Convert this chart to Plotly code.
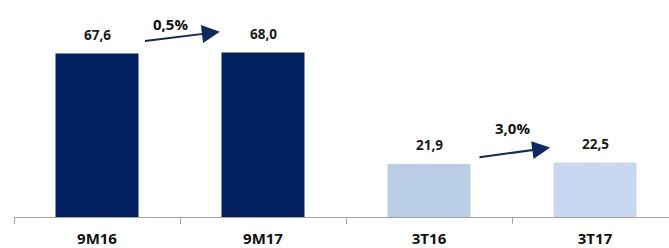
import plotly.graph_objects as go

categories = ["9M16", "9M17", "3T16", "3T17"]
values = [67.6, 68.0, 21.9, 22.5]
value_labels = ["67,6", "68,0", "21,9", "22,5"]
bar_colors = ["#002060", "#002060", "#B9CDE5", "#C6D9F1"]
growth_labels = ["0,5%", "3,0%"]
growth_pairs = [(0, 1), (2, 3)]

# arrow layout offsets (x relative to first category index, y relative to the higher bar)
arrow_layout = [
    dict(x0=0.28, x1=0.74, y0=4.7, y1=8.6, tx=0.44, ty=11.9),
    dict(x0=0.295, x1=0.73, y0=2.1, y1=6.2, tx=0.50, ty=14.4),
]

fig = go.Figure()
fig.add_trace(go.Bar(
    x=categories, y=values, marker=dict(color=bar_colors, line=dict(width=0)),
    width=0.5, hoverinfo="skip",
))

for c, v, t in zip(categories, values, value_labels):
    fig.add_annotation(x=c, y=v, text=f"<b>{t}</b>", showarrow=False,
                       yanchor="bottom", yshift=8,
                       font=dict(family="Open Sans", size=13.5, color="#1a1a1a"))

for (i, j), lab, a in zip(growth_pairs, growth_labels, arrow_layout):
    base = max(values[i], values[j])
    fig.add_annotation(x=i + a["x1"], y=base + a["y1"], ax=i + a["x0"], ay=base + a["y0"],
                       xref="x", yref="y", axref="x", ayref="y", text="",
                       showarrow=True, arrowhead=2, arrowsize=1.8, arrowwidth=2,
                       arrowcolor="#0F2A5F")
    fig.add_annotation(x=i + a["tx"], y=base + a["ty"], text=f"<b>{lab}</b>",
                       showarrow=False, yanchor="middle",
                       font=dict(family="Open Sans", size=15, color="#111111"))

fig.update_layout(
    width=669, height=248,
    margin=dict(l=14, r=0, t=0, b=29),
    paper_bgcolor="white", plot_bgcolor="white",
    showlegend=False,
    xaxis=dict(type="category", range=[-0.5, -0.5 + 655 / 166],
               showline=True, linecolor="#A6A6A6", linewidth=1,
               ticks="outside", tickson="boundaries", ticklen=6,
               tickcolor="#A6A6A6", showgrid=False,
               tickfont=dict(family="Open Sans", size=15, color="#111111"),
               ticklabelstandoff=8, fixedrange=True),
    yaxis=dict(range=[0, 219 / 2.44], visible=False, showgrid=False,
               fixedrange=True),
)
fig.update_xaxes(ticktext=[f"<b>{c}</b>" for c in categories], tickvals=categories)

fig.write_html("out.html", config={"displayModeBar": False},
               post_script="document.body.style.margin='0';document.body.style.overflow='hidden';")
